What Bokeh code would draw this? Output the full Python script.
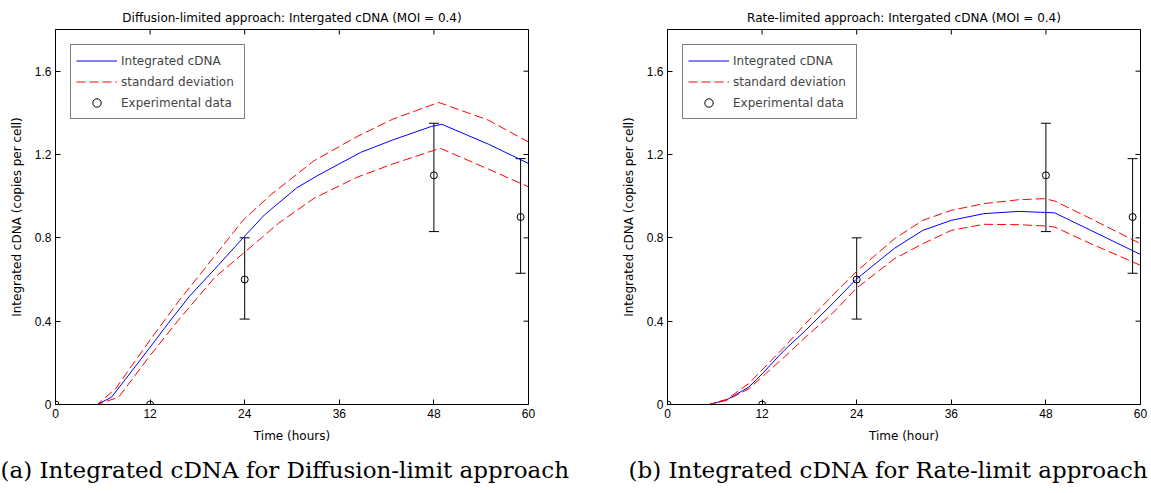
import math
from bokeh.plotting import figure
from bokeh.models import (Range1d, FixedTicker, Legend, LegendItem,
                          ColumnDataSource, Whisker, TeeHead, Title)
from bokeh.layouts import row
from bokeh.embed import file_html
from bokeh.resources import INLINE

# ---------------- data ----------------
x_range_end = 60
y_range_end = 1.8
x_ticks = [0, 12, 24, 36, 48, 60]
y_ticks = [0, 0.4, 0.8, 1.2, 1.6]
y_tick_labels = ["0", "0.4", "0.8", "1.2", "1.6"]

# Diffusion-limited approach
diff_t = [0, 5.3, 7.1, 9.4, 11.9, 14.3, 17.0, 20.2, 23.8, 26.5, 30.6, 33.3, 38.7, 42.8, 47.7, 49.0, 54.9, 60]
diff_mean = [0, 0, 0.035, 0.147, 0.27, 0.39, 0.52, 0.65, 0.80, 0.91, 1.04, 1.10, 1.21, 1.27, 1.335, 1.345, 1.25, 1.157]
diff_up_t = [0, 5.3, 7.6, 12.1, 15.7, 19.3, 23.8, 27.4, 32.8, 38.2, 42.8, 48.6, 54.9, 60]
diff_up = [0, 0, 0.075, 0.315, 0.50, 0.67, 0.885, 1.01, 1.17, 1.285, 1.37, 1.45, 1.365, 1.26]
diff_lo_t = [0, 5.3, 8.0, 12.1, 15.7, 20.2, 23.8, 28.3, 32.8, 38.2, 42.8, 48.8, 54.9, 60]
diff_lo = [0, 0, 0.035, 0.24, 0.41, 0.61, 0.725, 0.87, 0.99, 1.09, 1.155, 1.23, 1.13, 1.045]

# Rate-limited approach
rate_t = [0, 5.3, 7.5, 10.3, 12.0, 14.8, 17.5, 21.1, 23.9, 26.5, 28.8, 32.4, 36.0, 40.1, 44.6, 49.1, 53.7, 60]
rate_mean = [0, 0, 0.022, 0.083, 0.147, 0.26, 0.355, 0.49, 0.60, 0.68, 0.75, 0.836, 0.884, 0.916, 0.927, 0.92, 0.836, 0.72]
rate_band_t = [0, 5.3, 7.5, 10.3, 14.8, 17.5, 21.1, 23.9, 28.8, 32.4, 36.0, 40.1, 44.6, 47.8, 49.1, 53.7, 60]
rate_up = [0, 0, 0.025, 0.10, 0.275, 0.388, 0.53, 0.636, 0.796, 0.884, 0.932, 0.964, 0.983, 0.988, 0.977, 0.892, 0.772]
rate_lo = [0, 0, 0.02, 0.075, 0.227, 0.323, 0.444, 0.556, 0.70, 0.772, 0.836, 0.865, 0.863, 0.857, 0.852, 0.772, 0.668]

# Experimental data
exp_t = [0, 12, 24, 48, 59]
exp_val = [0, 0, 0.6, 1.1, 0.9]
exp_lo = [0, 0, 0.41, 0.83, 0.63]
exp_hi = [0, 0, 0.8, 1.35, 1.18]

TICKF = "Liberation Sans"
SANS = "DejaVu Sans"
SERIF = "DejaVu Serif"


def style_axis(ax):
    ax.axis_line_color = "black"
    ax.major_tick_line_color = "black"
    ax.major_tick_in = 5
    ax.major_tick_out = 0
    ax.minor_tick_line_color = None
    ax.major_label_text_font = TICKF
    ax.major_label_text_font_size = "12px"
    ax.major_label_text_color = "black"
    ax.major_label_standoff = 4
    ax.axis_label_text_font = SANS
    ax.axis_label_text_font_size = "12px"
    ax.axis_label_text_font_style = "normal"
    ax.axis_label_text_color = "black"


def make_panel(title, xlabel, caption, cap_offset, t_mean, mean, t_up, up, t_lo, lo,
               width, bl, br):
    p = figure(width=width, height=493, output_backend="svg", toolbar_location=None,
               x_range=Range1d(0, x_range_end), y_range=Range1d(0, y_range_end),
               min_border_left=bl, min_border_right=br, min_border_top=29,
               min_border_bottom=89)
    p.title.text = title
    p.title.text_font = SANS
    p.title.text_font_size = "12px"
    p.title.text_font_style = "normal"
    p.title.align = "center"
    p.title.text_color = "black"
    p.grid.visible = False
    p.outline_line_color = "black"
    p.outline_line_alpha = 1
    p.background_fill_color = "white"
    p.border_fill_color = "white"

    p.xaxis.ticker = FixedTicker(ticks=x_ticks)
    p.yaxis.ticker = FixedTicker(ticks=y_ticks)
    p.yaxis.major_label_overrides = {v: s for v, s in zip(y_ticks, y_tick_labels)}
    p.xaxis.axis_label = xlabel
    p.yaxis.axis_label = "Integrated cDNA (copies per cell)"
    style_axis(p.xaxis[0])
    style_axis(p.yaxis[0])
    p.xaxis.axis_label_standoff = 8
    p.yaxis.axis_label_standoff = 8

    # inward ticks on the top and right edges of the box (clipped to the frame)
    p.scatter(x_ticks, [y_range_end] * len(x_ticks), marker="dash", angle=math.pi / 2,
              size=10, line_color="black", line_width=1)
    p.scatter([x_range_end] * len(y_ticks), y_ticks, marker="dash",
              size=10, line_color="black", line_width=1)

    r_mean = p.line(t_mean, mean, line_color="#0000ff", line_width=1)
    r_up = p.line(t_up, up, line_color="#ff0000", line_width=1, line_dash="9 4")
    p.line(t_lo, lo, line_color="#ff0000", line_width=1, line_dash="9 4")

    idx = [i for i in range(len(exp_t)) if exp_hi[i] > exp_lo[i]]
    src = ColumnDataSource(dict(t=[exp_t[i] for i in idx],
                                lo=[exp_lo[i] for i in idx],
                                hi=[exp_hi[i] for i in idx]))
    w = Whisker(source=src, base="t", lower="lo", upper="hi", line_color="black",
                line_width=1,
                upper_head=TeeHead(size=10, line_color="black", line_width=1),
                lower_head=TeeHead(size=10, line_color="black", line_width=1))
    p.add_layout(w)
    r_exp = p.scatter(exp_t, exp_val, marker="circle", size=7, fill_color=None,
                      line_color="black", line_width=1)

    legend = Legend(items=[LegendItem(label="Integrated cDNA", renderers=[r_mean]),
                           LegendItem(label="standard deviation", renderers=[r_up]),
                           LegendItem(label="Experimental data", renderers=[r_exp])],
                    location="top_left")
    legend.margin = 15
    legend.padding = 5
    legend.spacing = 0
    legend.glyph_width = 41
    legend.glyph_height = 21
    legend.label_height = 21
    legend.label_width = 118
    legend.label_standoff = 4
    legend.label_text_font = SANS
    legend.label_text_font_size = "12px"
    legend.border_line_color = "black"
    legend.border_line_width = 1
    legend.background_fill_alpha = 1
    p.add_layout(legend)

    cap = Title(text=caption, text_font=SERIF, text_font_size="23px",
                text_font_style="normal", align="left", offset=cap_offset,
                text_color="black", standoff=19)
    p.add_layout(cap, "below")
    return p


p1 = make_panel("Diffusion-limited approach: Intergated cDNA (MOI = 0.4)", "Time (hours)",
                "(a) Integrated cDNA for Diffusion-limit approach", -55,
                diff_t, diff_mean, diff_up_t, diff_up, diff_lo_t, diff_lo,
                575, 55, 47)
p2 = make_panel("Rate-limited approach: Intergated cDNA (MOI = 0.4)", "Time (hour)",
                "(b) Integrated cDNA for Rate-limit approach", -39,
                rate_t, rate_mean, rate_band_t, rate_up, rate_band_t, rate_lo,
                576, 92, 11)

layout = row(p1, p2)
open("out.html", "w").write(file_html(layout, INLINE))
